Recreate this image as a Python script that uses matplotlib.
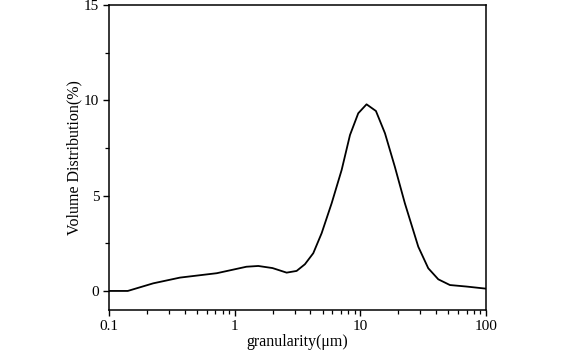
import numpy as np
import matplotlib.pyplot as plt
from matplotlib.ticker import LogLocator, FixedLocator, NullFormatter

# particle size (um) and volume distribution (%)
size_um = [0.1, 0.141, 0.225, 0.367, 0.72, 1.24, 1.54, 2.0, 2.59, 3.11, 3.62,
           4.22, 4.92, 5.91, 7.10, 8.27, 9.62, 11.2, 13.3, 15.7, 18.8, 22.6,
           28.9, 34.7, 41.7, 51.6, 70.1, 100]
volume_pct = [0.0, 0.0, 0.40, 0.70, 0.93, 1.27, 1.31, 1.20, 0.96, 1.05, 1.40,
              1.98, 3.03, 4.6, 6.35, 8.18, 9.32, 9.79, 9.44, 8.27, 6.52, 4.6,
              2.32, 1.19, 0.61, 0.31, 0.23, 0.12]

plt.rcParams['font.family'] = ['Liberation Serif', 'DejaVu Serif']

fig = plt.figure(figsize=(5.72, 3.52), dpi=100)
ax = fig.add_axes([0.1906, 0.1193, 0.6591, 0.8665])
ax.plot(size_um, volume_pct, color='black', lw=1.3)

ax.set_xscale('log')
ax.set_xlim(0.1, 100)
ax.set_ylim(-1, 15)
ax.set_xticks([0.1, 1, 10, 100])
ax.set_xticklabels(['0.1', '1', '10', '100'])
ax.xaxis.set_minor_locator(LogLocator(base=10, subs=np.arange(2, 10)))
ax.xaxis.set_minor_formatter(NullFormatter())
ax.set_yticks([0, 5, 10, 15])
ax.yaxis.set_minor_locator(FixedLocator([2.5, 7.5, 12.5]))

for s in ax.spines.values():
    s.set_linewidth(1.1)
ax.tick_params(which='major', direction='out', length=4.5, width=1.0, labelsize=11,
               pad=2.5, top=False, right=False)
ax.tick_params(which='minor', direction='out', length=3, width=0.9,
               top=False, right=False)

ax.set_xlabel('granularity(μm)', fontsize=11.5, labelpad=1)
ax.set_ylabel('Volume Distribution(%)', fontsize=11.5, labelpad=1)

fig.savefig('out.png', dpi=100)
